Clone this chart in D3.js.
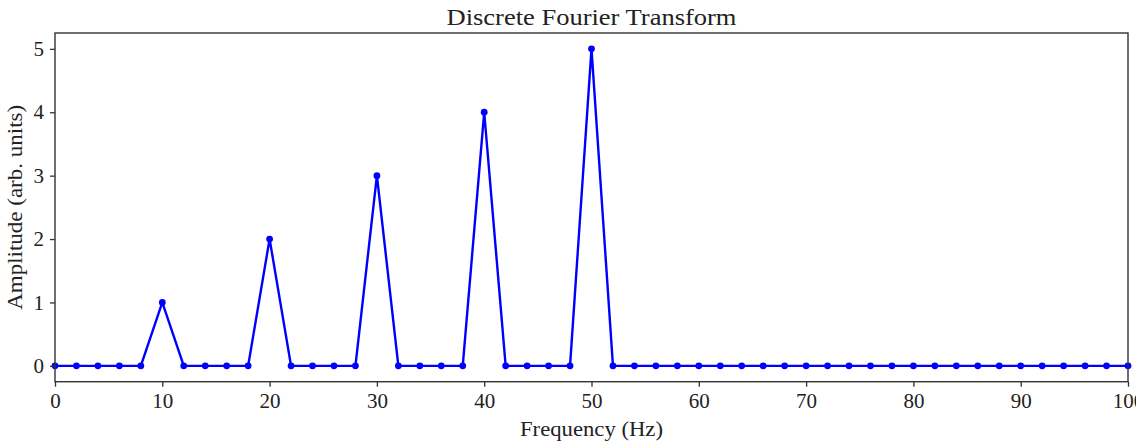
<!DOCTYPE html>
<html><head><meta charset="utf-8">
<script src="https://cdn.jsdelivr.net/npm/d3@7"></script>
<style>
html,body{margin:0;padding:0;background:#fff;}
text{font-family:"Liberation Serif","DejaVu Serif",serif;fill:#222;}
</style></head>
<body><svg id="c" width="1136" height="442"></svg>
<script>
const freqs = [0,2,4,6,8,10,12,14,16,18,20,22,24,26,28,30,32,34,36,38,40,42,44,46,48,50,52,54,56,58,60,62,64,66,68,70,72,74,76,78,80,82,84,86,88,90,92,94,96,98,100];
const amps  = [0,0,0,0,0,1,0,0,0,0,2,0,0,0,0,3,0,0,0,0,4,0,0,0,0,5,0,0,0,0,0,0,0,0,0,0,0,0,0,0,0,0,0,0,0,0,0,0,0,0,0];
const xTicks = [0,10,20,30,40,50,60,70,80,90,100];
const yTicks = [0,1,2,3,4,5];
const title = "Discrete Fourier Transform";
const xLabel = "Frequency (Hz)";
const yLabel = "Amplitude (arb. units)";

const svg = d3.select("#c");
const L=55, R=1128, T=33, B=381.7;
const x = d3.scaleLinear().domain([0,100]).range([L,R]);
const y = d3.scaleLinear().domain([-0.25,5.25]).range([B,T]);

const data = freqs.map((f,i)=>({f, a:amps[i]}));

svg.append("path").datum(data)
  .attr("fill","none").attr("stroke","#0000ff").attr("stroke-width",2.4)
  .attr("stroke-linejoin","round")
  .attr("d", d3.line().x(d=>x(d.f)).y(d=>y(d.a)));
svg.selectAll("circle.pt").data(data).enter().append("circle")
  .attr("class","pt").attr("cx",d=>x(d.f)).attr("cy",d=>y(d.a)).attr("r",3.4)
  .attr("fill","#0000ff");

svg.append("rect").attr("x",L).attr("y",T).attr("width",R-L).attr("height",B-T)
  .attr("fill","none").attr("stroke","#333").attr("stroke-width",1.4);

const xa = svg.append("g").attr("transform",`translate(0,${B})`)
  .call(d3.axisBottom(x).tickValues(xTicks).tickSize(5).tickPadding(6).tickFormat(d3.format("d")));
const ya = svg.append("g").attr("transform",`translate(${L},0)`)
  .call(d3.axisLeft(y).tickValues(yTicks).tickSize(5).tickPadding(6).tickFormat(d3.format("d")));
[xa,ya].forEach(g=>{
  g.select(".domain").remove();
  g.selectAll("line").attr("stroke","#333").attr("stroke-width",1.3);
  g.selectAll("text").style("font-family",'"Liberation Serif","DejaVu Serif",serif').style("font-size","21px").attr("fill","#333");
});

svg.append("text").attr("x",(L+R)/2).attr("y",25).attr("text-anchor","middle")
  .style("font-size","24px").attr("textLength",290).attr("lengthAdjust","spacingAndGlyphs").text(title);
svg.append("text").attr("x",(L+R)/2).attr("y",436).attr("text-anchor","middle")
  .style("font-size","21px").attr("fill","#333").attr("textLength",143).attr("lengthAdjust","spacingAndGlyphs").text(xLabel);
svg.append("text").attr("transform",`translate(22,${(T+B)/2}) rotate(-90)`).attr("text-anchor","middle")
  .style("font-size","21px").attr("fill","#333").attr("textLength",205).attr("lengthAdjust","spacingAndGlyphs").text(yLabel);
</script></body></html>
